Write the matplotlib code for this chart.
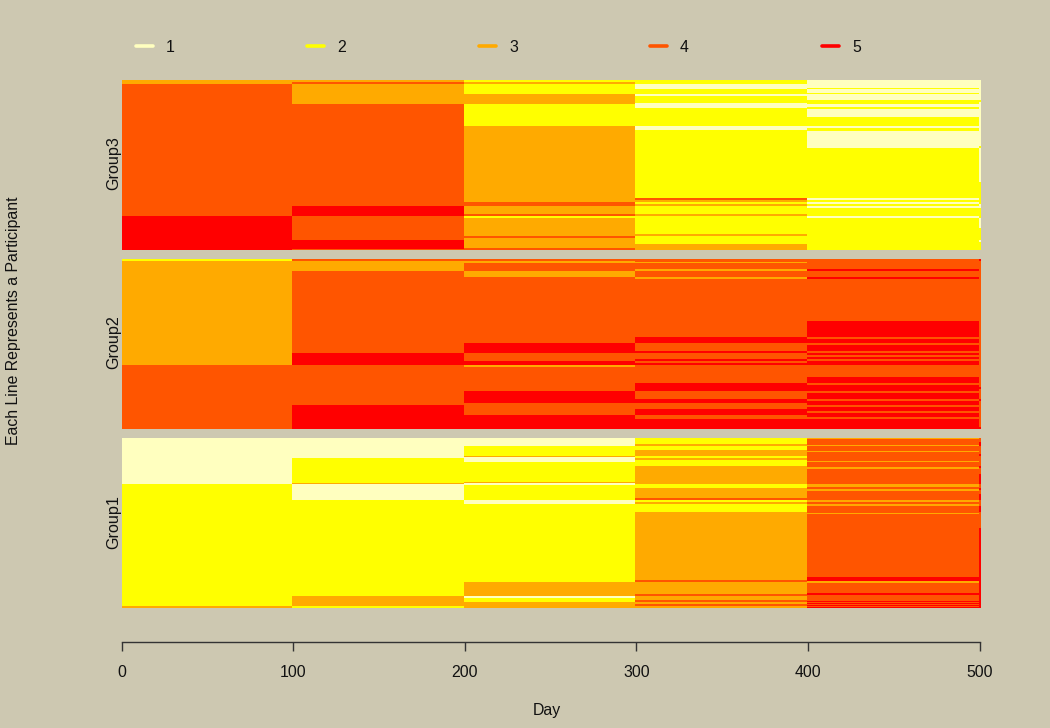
import numpy as np
import matplotlib
matplotlib.use('Agg')
import matplotlib.pyplot as plt
from matplotlib.lines import Line2D

W, H = 1050, 728
BG = '#CDC8B1'
plt.rcParams['font.family'] = ['Liberation Sans', 'DejaVu Sans']

states = [1, 2, 3, 4, 5]
state_colors = ['#FFFFBF', '#FFFF00', '#FFAA00', '#FF5500', '#FF0000']
day_edges = [0, 99.5, 199.5, 299.5, 399.5, 499.6, 500.87]
day_ticks = [0, 100, 200, 300, 400, 500]

# each column is (state, number of rows) from the top down, 85 rows per group.
# half rows are for the lines that look thinner than the others
group3_runs = [
    [(3, 2), (4, 66), (5, 17)],
    [(3, 1), (4, 1), (3, 10), (4, 51), (5, 5), (4, 12), (5, 5)],
    [(2, 1), (3, 1), (2, 5), (3, 5), (2, 11), (3, 38), (4, 2), (3, 4), (4, 1), (2, 1), (3, 9), (4, 1), (3, 5), (4, 1)],
    [(2, 2), (1, 2.5), (2, 2.5), (1, 1), (2, 3.5), (1, 2.5), (2, 9), (1, 2), (2, 34), (4, 1), (3, 1), (2, 1), (3, 1),
     (2, 4), (3, 1), (2, 9), (3, 1), (2, 4), (3, 3)],
    [(1, 4), (2, 0.5), (1, 2), (2, 0.5), (1, 3), (2, 2), (1, 1.5), (2, 1), (1, 4), (2, 4.5), (1, 1), (2, 1.5), (1, 8.5),
     (2, 25), (1, 1), (2, 1), (1, 1), (2, 1), (1, 1), (2, 4), (1, 1), (2, 16)],
    [(1, 10), (2, 1), (1, 22), (2, 1), (1, 17), (2, 11), (1, 2), (2, 5), (1, 5), (2, 6), (1, 1), (2, 4)],
]
group2_runs = [
    [(2, 1), (3, 52), (4, 32)],
    [(4, 1), (3, 5), (4, 41), (5, 6), (4, 20), (5, 12)],
    [(4, 1), (3, 1), (4, 4), (3, 3), (4, 33), (5, 5), (4, 4), (5, 2), (3, 1), (4, 12), (5, 6), (4, 6), (5, 7)],
    [(4, 1.5), (3, 0.5), (4, 3), (3, 1), (4, 3), (3, 1), (4, 29), (5, 3), (4, 4), (5, 1), (4, 3), (5, 1), (4, 1), (5, 1),
     (4, 9), (5, 4), (4, 4), (5, 2), (4, 3), (5, 3), (4, 2), (5, 5)],
    [(4, 5), (5, 1), (4, 3), (5, 1), (4, 21), (5, 8), (4, 1), (5, 2), (4, 1), (5, 3), (4, 1), (5, 1), (4, 1), (5, 1),
     (4, 1), (5, 2), (4, 6), (5, 3), (4, 1), (5, 3), (4, 1), (5, 3), (4, 1), (5, 2), (4, 1), (5, 2), (4, 1), (5, 2),
     (4, 1), (5, 5)],
    [(5, 1), (4, 63), (5, 1), (4, 5), (5, 1), (4, 13), (5, 1)],
]
group1_runs = [
    [(1, 23), (2, 61), (3, 1)],
    [(1, 10), (2, 12.5), (3, 0.5), (1, 8), (2, 48), (3, 5), (2, 1)],
    [(1, 4), (2, 5), (3, 0.5), (1, 2.5), (2, 10), (3, 0.5), (1, 1), (2, 7.5), (1, 2), (2, 39), (3, 7), (1, 1), (2, 2), (3, 3)],
    [(2, 3), (3, 1), (2, 2), (3, 3), (2, 1), (3, 1), (2, 3), (3, 9), (2, 2), (3, 5), (4, 1), (2, 1), (3, 1), (2, 4),
     (3, 34), (4, 1), (3, 6), (4, 1), (3, 2), (4, 1), (3, 1), (4, 1), (3, 1)],
    [(3, 0.5), (4, 3), (3, 0.5), (4, 2.5), (3, 0.5), (4, 4.5), (3, 0.5), (4, 2.5), (3, 1), (4, 7.5), (3, 1.5), (4, 1),
     (3, 1), (4, 4.5), (3, 1), (4, 1), (3, 1), (4, 3.5), (3, 0.5), (4, 31.5), (5, 2), (3, 1), (4, 5), (5, 1), (4, 3),
     (5, 0.5), (4, 0.5), (5, 0.5), (4, 0.5), (5, 0.5), (4, 0.5), (5, 0.5)],
    [(4, 2), (5, 2), (4, 4), (5, 1), (4, 5), (5, 1), (4, 3), (5, 5), (4, 2), (5, 1), (4, 2), (5, 3), (4, 3), (5, 3),
     (4, 8), (5, 40)],
]
group_names = ['Group3', 'Group2', 'Group1']
group_runs = [group3_runs, group2_runs, group1_runs]
N_ROWS = 85

# top and bottom of each panel in pixels
panel_y = [(80, 249.5), (259.3, 428.7), (438.3, 608)]
LEFT, RIGHT = 121.5, 981


def px_text(x, y, s, **kw):
    fig.text(x / W, 1 - y / H, s, ha='center', va='center', color='#111111', **kw)


fig = plt.figure(figsize=(W / 100, H / 100), dpi=100, facecolor=BG)

for name, runs, (top, bottom) in zip(group_names, group_runs, panel_y):
    ax = fig.add_axes([LEFT / W, 1 - bottom / H, (RIGHT - LEFT) / W, (bottom - top) / H])
    ax.set_facecolor(BG)
    # every bar runs on to the bottom and right end so no seams show between them
    for left, col in zip(day_edges[:-1], runs):
        start = 0
        for st, count in col:
            ax.barh(start, day_edges[-1] - left, height=N_ROWS - start, left=left, align='edge',
                    color=state_colors[st - 1], linewidth=0)
            start += count
    ax.set_xlim(day_edges[0], day_edges[-1])
    ax.set_ylim(N_ROWS, 0)
    ax.set_yticks([])
    ax.set_xticks([])
    for s in ax.spines.values():
        s.set_visible(False)
    px_text(114, (top + bottom) / 2 - 1.5, name, fontsize=11.6, rotation=90)

# bottom axis sits under the last panel
ax.spines['bottom'].set_visible(True)
ax.spines['bottom'].set_position(('outward', 24.5))
ax.spines['bottom'].set_bounds(0, 500)
ax.spines['bottom'].set_linewidth(1)
ax.spines['bottom'].set_color('#333333')
ax.set_xticks(day_ticks)
ax.tick_params(axis='x', length=6.8, width=1, color='#333333', labelsize=11.4, labelcolor='#111111', pad=9.5)

px_text(547, 710, 'Day', fontsize=11.4)
px_text(14, 321, 'Each Line Represents a Participant', fontsize=11.4, rotation=90)

legend_x = [136, 307, 479, 650, 822]
for st, col, x in zip(states, state_colors, legend_x):
    fig.add_artist(Line2D([x / W, (x + 17) / W], [1 - 46 / H, 1 - 46 / H], color=col, lw=2.6,
                          solid_capstyle='round', transform=fig.transFigure))
    px_text(x + 34.5, 47, str(st), fontsize=11.4)

fig.savefig('out.png', dpi=100, facecolor=BG)
